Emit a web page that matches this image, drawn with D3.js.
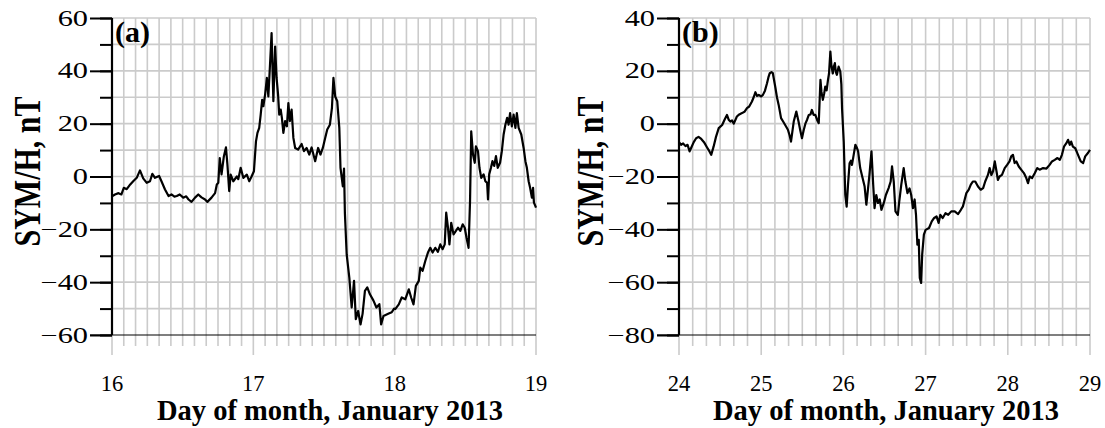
<!DOCTYPE html>
<html>
<head>
<meta charset="UTF-8">
<title>SYM/H</title>
<style>
  body { margin: 0; background: #fff; }
  svg { font-family: "Liberation Serif", "Times New Roman", serif; }
  .grid line { stroke: #cbcbcb; stroke-width: 1.6; }
  .trace { fill: none; stroke: #000; stroke-width: 2.2; stroke-linejoin: round; }
</style>
<script src="https://cdn.jsdelivr.net/npm/d3@7"></script>
</head>
<body>
<script>
// panel (a): hours since 16 Jan 2013 00 UT
var hoursA = [0,0.5,1.1,1.6,2.0,2.5,3.1,3.6,4.2,4.75,5.3,5.9,6.45,6.85,7.3,8.0,8.4,9.0,9.6,10.1,10.6,11.0,11.5,12.1,12.6,13.0,13.5,14.1,14.65,15.2,15.8,16.2,16.9,17.5,17.8,18.05,18.3,18.6,19.0,19.35,19.6,19.9,20.15,20.6,21.2,21.45,21.85,22.3,22.9,23.3,23.7,24.1,24.45,24.7,25.0,25.25,25.5,25.7,26.0,26.3,26.55,26.8,27.1,27.4,27.7,27.95,28.2,28.4,28.65,28.85,29.1,29.4,29.7,29.95,30.2,30.5,30.8,31.1,31.6,32.2,32.6,33.05,33.5,33.9,34.5,35.0,35.4,35.8,36.2,36.55,37.0,37.35,37.6,37.9,38.25,38.6,38.8,39.2,39.4,39.55,39.85,40.3,40.7,41.1,41.4,41.8,42.2,42.55,42.95,43.35,43.8,44.4,44.9,45.4,45.7,46.1,46.9,47.5,47.9,48.1,48.7,49.2,49.8,50.4,50.8,51.2,51.6,52.1,52.35,52.75,53.2,53.65,54.05,54.45,54.9,55.35,55.75,56.15,56.5,56.75,57.05,57.3,57.6,58.0,58.4,58.75,59.15,59.55,59.9,60.2,60.55,60.8,61.0,61.3,61.6,61.8,62.15,62.4,62.7,63.1,63.4,63.7,63.85,64.05,64.35,64.6,64.9,65.2,65.5,65.9,66.2,66.5,66.8,67.1,67.35,67.6,67.9,68.2,68.5,68.75,69.05,69.5,69.9,70.2,70.45,70.75,71.0,71.3,71.5,71.65,71.9,72];
var symA = [-7.5,-6.8,-6.3,-6.8,-4.3,-4.8,-3.0,-1.8,-0.5,2.3,-0.7,-2.4,-1.8,1.0,-0.5,0.2,-1.8,-4.9,-7.4,-6.8,-7.6,-7.4,-6.8,-8.0,-7.5,-8.7,-9.6,-8.0,-6.8,-7.9,-8.7,-9.6,-8.0,-6.3,-3.0,-2.4,7.0,0.8,7.7,11.0,4.5,-5.5,0.7,-1.8,0,-1.0,3.3,-0.5,0.7,-1.8,0,2.0,13.3,16.5,18.4,23.4,29,26.6,31,37.3,30.3,41,54.3,28.5,49.2,37.3,31,23.4,25.3,22.2,16.5,21,19,27.8,21,25.3,14.6,10.8,10.2,12.3,9.6,10.8,8.3,11,5.8,10.8,8.3,10.8,14.6,17.8,19.6,26,37.3,30.3,28.5,18.4,3.3,-3.7,3.0,-14,-29.5,-38.3,-49.6,-39.5,-54,-50.9,-56,-52,-43.3,-42,-44.6,-47,-49.6,-48.3,-56,-52.8,-52,-51.4,-50,-50.2,-48.4,-45.8,-46.5,-42.7,-45.8,-48.4,-41.4,-39.5,-34.5,-35.7,-32,-28.8,-27,-28.8,-27,-28.5,-25.7,-27.5,-25.7,-13.7,-19.4,-25.7,-17.5,-21.9,-20.6,-19.4,-20.6,-18.1,-19.4,-23.2,-27,-9.3,17.1,8.3,5.2,11.4,9.6,3.3,-0.5,0.8,-1.8,-2.4,-8.7,0.8,3.3,5.8,4,7.7,3.3,5.2,9.6,15.9,19.6,22.2,19.6,24,19,23.4,18.4,24,18.4,15.9,10.8,5.8,3.3,-1.8,-4.3,-8,-4.3,-9.9,-11.2,-11.8];

// panel (b): hours since 24 Jan 2013 00 UT
var hoursB = [0,0.6,1.2,1.9,2.5,3.1,3.6,4.3,5.0,5.7,6.5,7.3,8.2,8.9,9.4,10.1,10.8,11.6,12.6,13.3,14.0,14.5,15.0,15.5,16.0,16.9,17.6,18.4,19.1,19.85,20.5,21.3,21.8,22.3,22.8,23.3,24.0,24.5,25.1,25.7,26.1,26.5,27.0,27.4,28.1,28.6,29.1,29.8,30.4,31.0,31.8,32.3,32.7,33.1,33.5,34.25,34.9,35.4,35.9,36.4,36.9,37.4,37.9,38.4,38.8,39.3,39.8,40.3,40.8,41.3,41.6,42.0,42.4,42.7,43.1,43.5,43.8,44.2,44.5,44.9,45.2,45.5,45.8,46.1,46.6,47.1,47.4,47.6,48.1,48.55,48.95,49.35,49.8,50.2,50.5,51.0,51.5,51.9,52.3,52.9,53.6,54.2,54.7,55.2,55.6,56.2,56.7,57.1,57.6,58.1,58.6,59.1,59.8,60.4,61.2,61.8,62.2,62.7,63.2,63.9,64.3,64.9,65.6,66.1,66.7,67.3,67.8,68.3,68.8,69.2,69.6,70.0,70.3,70.7,71.0,71.5,72.0,73.0,73.8,74.5,75.2,75.8,76.3,77.0,77.8,78.6,79.5,80.5,81.5,82.3,82.9,83.4,83.9,84.6,85.2,85.8,86.5,87.3,88.1,88.8,89.4,90.2,90.7,91.2,91.7,92.2,92.7,93.1,93.6,94.3,95.1,95.8,96.5,97.0,97.5,98.0,98.5,99.2,99.9,100.7,101.4,101.9,102.4,103.1,103.9,104.6,105.3,106.3,107.3,108.2,108.9,109.7,110.5,111.2,111.8,112.4,113.1,113.6,114.1,114.5,115.0,115.7,116.5,117.3,118.0,118.6,119.4,120];
var symB = [-7,-8,-7.5,-8.5,-8,-10.5,-9,-7,-5.5,-5,-5.8,-7,-9,-10.5,-11.8,-8.7,-5,-1.7,-0.5,1.5,3.3,1.5,0.8,1.2,0,2.7,3.5,4,4.5,5.9,6.5,8.4,10,11.9,10.5,10.9,10.3,10.9,12.5,15.3,17.5,19.1,19.5,19.1,14,10,7.1,2.1,0.8,-0.5,-2.3,-4.5,-6.8,-3,0.8,4.6,0.8,-2.5,-5.5,-2.5,0,1.5,3.3,3.5,5.2,3.3,3.3,1.5,0.2,16.6,12,9,11.5,14,12.6,16.6,19,27.3,22,19,21.5,22.9,19.5,18.5,21.6,19.7,15,5.9,-6.8,-27,-31.4,-23.1,-15,-14,-15.6,-11.8,-8,-9,-10.5,-16.8,-20.6,-23.8,-30.7,-24.5,-19.4,-10.5,-23.1,-32,-27,-30,-28.7,-32.6,-30,-27,-24.4,-21.9,-16.2,-21.9,-33.2,-34.5,-29.5,-23.1,-16.8,-21.9,-26.3,-24.5,-27,-32,-28.7,-34.5,-45.8,-44,-58.4,-60.3,-49.6,-42,-40.2,-39.5,-37,-35.7,-35.1,-37.6,-34.5,-35.7,-33.9,-34.5,-33.2,-33.2,-34.2,-32.6,-31.3,-28.8,-26.3,-25,-23.1,-21.9,-21.9,-23.8,-25,-24.4,-21.9,-19.4,-16.8,-19.4,-18,-14.3,-18,-21.3,-20,-19.4,-16.8,-15.6,-14.3,-12.4,-11.8,-14.9,-14.3,-16.2,-17.4,-18.7,-20.6,-22.5,-20,-20.6,-18.7,-16.8,-17.4,-16.8,-17,-15.6,-14.3,-13.7,-13,-13.7,-11.8,-8.7,-7.4,-6.1,-8,-6.8,-8.7,-9.3,-11.8,-14.3,-14.9,-12.4,-11.1,-9.9];

var daysA = [16, 17, 18, 19];
var daysB = [24, 25, 26, 27, 28, 29];
var yTicksA = [-60, -40, -20, 0, 20, 40, 60];
var yTicksB = [-80, -60, -40, -20, 0, 20, 40];

var xTitle = "Day of month, January 2013";
var yTitle = "SYM/H, nT";

var svg = d3.select("body").append("svg")
	.attr("width", 1105)
	.attr("height", 428);

drawPanel({ label: "(a)", hours: hoursA, sym: symA, days: daysA, yTicks: yTicksA,
	left: 112, right: 536, minorPerDay: 12, yTitleX: 40, xTitleX: 330 });
drawPanel({ label: "(b)", hours: hoursB, sym: symB, days: daysB, yTicks: yTicksB,
	left: 679, right: 1090, minorPerDay: 6, yTitleX: 603, xTitleX: 886 });

function drawPanel(p) {
	var top = 18, bottom = 335;
	var d0 = p.days[0], d1 = p.days[p.days.length - 1];
	var x = d3.scaleLinear().domain([d0, d1]).range([p.left, p.right]);
	var y = d3.scaleLinear().domain(d3.extent(p.yTicks)).range([bottom, top]);
	var g = svg.append("g");

	// vertical grid (runs past the bottom axis like ticks)
	var minor = d3.range(0, (d1 - d0) * p.minorPerDay + 1).map(function(i){ return d0 + i / p.minorPerDay; });
	g.append("g").attr("class", "grid").selectAll("line")
		.data(minor).enter().append("line")
		.attr("x1", function(d){ return x(d); })
		.attr("x2", function(d){ return x(d); })
		.attr("y1", top)
		.attr("y2", function(d, i){ return i % p.minorPerDay === 0 ? bottom + 20 : bottom + 11; });

	// horizontal grid every 10 nT
	var yMinor = d3.range(y.domain()[0], y.domain()[1] + 1, 10);
	g.append("g").attr("class", "grid").selectAll("line")
		.data(yMinor.slice(1)).enter().append("line")
		.attr("x1", p.left).attr("x2", p.right)
		.attr("y1", function(d){ return y(d); })
		.attr("y2", function(d){ return y(d); });

	// bottom line
	g.append("line")
		.attr("x1", p.left - 22).attr("x2", p.right)
		.attr("y1", bottom).attr("y2", bottom)
		.attr("stroke", "#000").attr("stroke-width", 1.2);

	// left axis, major and minor ticks
	g.append("g").attr("transform", "translate(" + p.left + ",0)")
		.call(d3.axisLeft(y).tickValues(yMinor).tickSize(12).tickFormat(""))
		.call(function(s){ s.select(".domain").remove(); })
		.selectAll("line").attr("stroke-width", 2);
	g.append("g").attr("transform", "translate(" + p.left + ",0)")
		.call(d3.axisLeft(y).tickValues(p.yTicks).tickSize(22).tickFormat(""))
		.call(function(s){ s.select(".domain").remove(); })
		.selectAll("line").attr("stroke-width", 2);
	g.append("line")
		.attr("x1", p.left).attr("x2", p.left)
		.attr("y1", top).attr("y2", bottom)
		.attr("stroke", "#000").attr("stroke-width", 2.2);

	// y tick labels (wide in the original)
	g.selectAll(".ylab").data(p.yTicks).enter().append("text")
		.attr("class", "ylab")
		.attr("transform", function(d){ return "translate(" + (p.left - 24) + "," + (y(d) + 7.5) + ") scale(1.35,1)"; })
		.attr("text-anchor", "end")
		.attr("font-size", 22.5)
		.text(d3.format("d"));

	// x tick labels
	g.selectAll(".xlab").data(p.days).enter().append("text")
		.attr("x", function(d){ return x(d); })
		.attr("y", 391)
		.attr("text-anchor", "middle")
		.attr("font-size", 22.5)
		.text(function(d){ return d; });

	// trace
	var line = d3.line()
		.x(function(d){ return x(d0 + d[0] / 24); })
		.y(function(d){ return y(d[1]); });
	g.append("path")
		.datum(d3.zip(p.hours, p.sym))
		.attr("class", "trace")
		.attr("d", line);

	// titles
	g.append("text")
		.attr("x", p.xTitleX).attr("y", 420)
		.attr("text-anchor", "middle")
		.attr("font-size", 28.5).attr("font-weight", "bold")
		.text(xTitle);
	g.append("text")
		.attr("transform", "translate(" + p.yTitleX + "," + ((top + bottom) / 2 - 5) + ") rotate(-90) scale(1,1.25)")
		.attr("text-anchor", "middle")
		.attr("font-size", 30).attr("font-weight", "bold")
		.text(yTitle);

	g.append("text")
		.attr("x", p.left + 3).attr("y", 42)
		.attr("font-size", 30).attr("font-weight", "bold")
		.text(p.label);
}
</script>
</body>
</html>
